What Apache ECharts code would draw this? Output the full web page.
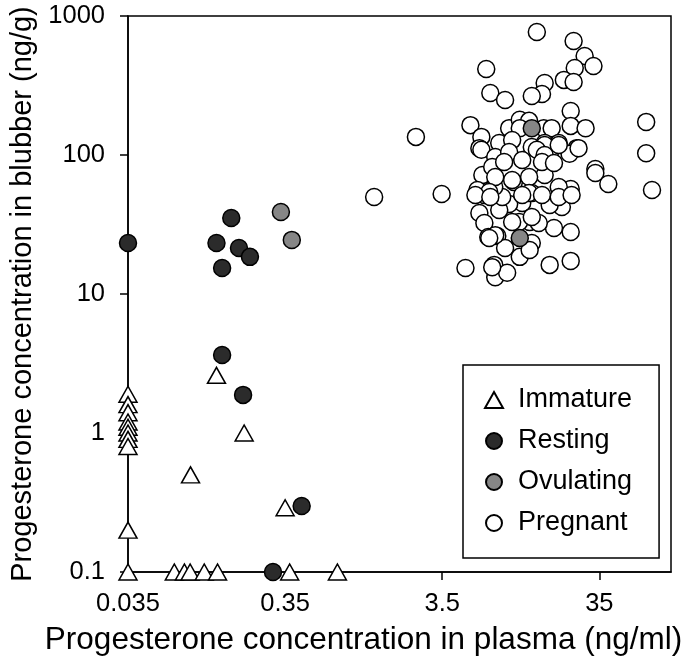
<!DOCTYPE html>
<html>
<head>
<meta charset="utf-8">
<script src="https://cdn.jsdelivr.net/npm/echarts@6/dist/echarts.min.js"></script>
<style>
html,body{margin:0;padding:0;background:#fff;}
#chart{width:685px;height:665px;}
</style>
</head>
<body>
<div id="chart"></div>
<script>
// Tick labels
var xTicks = [0.035, 0.35, 3.5, 35];
var yTicks = [0.1, 1, 10, 100, 1000];
var seriesNames = ['Immature', 'Resting', 'Ovulating', 'Pregnant'];

// [plasma ng/ml, blubber ng/g]
var immature = [
  [0.035,1.9],[0.035,1.6],[0.035,1.4],[0.035,1.2],[0.035,1.1],[0.035,1.0],[0.035,0.9],[0.035,0.8],
  [0.035,0.2],[0.035,0.1],
  [0.128,2.6],[0.192,1.0],[0.0875,0.5],[0.35,0.29],
  [0.069,0.1],[0.08,0.1],[0.087,0.1],[0.107,0.1],[0.13,0.1],[0.374,0.1],[0.753,0.1]
];
var resting = [
  [0.035,23.3],[0.159,35.2],[0.128,23.3],[0.178,21.4],[0.209,18.5],[0.139,15.4],
  [0.139,3.64],[0.189,1.88],[0.446,0.298],[0.293,0.1]
];
var ovulating = [
  [0.329,38.9],[0.386,24.5],[13.0,156],[10.9,25.3]
];
var pregnant = [
  [14.0,767],[24.0,661],[28.2,515],[32.1,437],[24.4,423],[20.8,347],[24.0,335],[6.67,416],[7.08,279],
  [8.79,249],[15.7,330],[15.1,275],[13.0,266],[23.0,207],[23.0,162],[28.6,156],[69.5,173],[69.5,103],
  [2.38,135],[5.29,164],[6.21,135],[6.03,112],[8.07,122],[9.33,156],[10.9,179],[12.5,176],[10.9,156],
  [15.5,156],[17.4,156],[15.7,122],[19.3,122],[25.1,112],[75.7,56.0],[33.0,79.3],[33.0,74.3],[39.9,61.8],
  [3.47,52.4],[1.29,49.9],[5.77,52.4],[6.03,38.3],[6.49,32.4],[6.87,25.7],[7.84,26.1],[8.79,21.4],
  [10.9,18.5],[13.0,23.3],[4.92,15.4],[7.50,16.2],[7.61,13.2],[9.06,14.2],[16.9,16.2],[23.0,17.3],
  [23.0,27.9],[18.0,29.8],[20.2,42.3],[16.9,43.7],[19.9,56.9],[23.0,56.9],[13.0,53.3],[11.3,45.2],
  [9.33,44.4],[8.07,40.2],[10.0,64.0],[7.84,87.5],[7.08,71.8],[15.7,71.8],[16.9,100],[22.6,102],
  [25.8,112],[6.21,109],[12.6,33.0],[10.8,33.0],[14.4,32.4],[9.75,33.0],[13.0,114],[15.7,118],
  [19.3,118],[8.43,49.9],[6.49,51.5],[7.50,58.9],[6.30,71.8],[9.75,128],[7.61,96.8],[9.33,105],
  [14.0,109],[15.7,100],[11.3,92.0],[15.1,89.1],[18.0,87.5],[7.28,82.0],[8.67,89.1],[7.61,69.5],
  [9.75,66.1],[12.5,69.5],[19.3,58.9],[5.86,56.0],[6.97,54.2],[12.5,53.3],[15.1,51.5],[13.0,35.8],
  [7.61,26.5],[6.97,25.3],[7.28,15.6],[5.69,51.5],[7.08,49.9],[11.3,51.5],[19.3,49.9],[23.3,51.5],
  [12.6,20.7]
];

var FONT = "'Liberation Sans', Arial, Helvetica, sans-serif";
var chart = echarts.init(document.getElementById('chart'), null, {renderer: 'canvas'});

function mk(name, data, symbol, size, fill, z) {
  return {
    name: name, type: 'scatter', data: data, symbol: symbol, symbolSize: size,
    clip: false, z: z,
    itemStyle: {color: fill, borderColor: '#000', borderWidth: 1.5, opacity: 1},
    emphasis: {disabled: true}
  };
}

chart.setOption({
  animation: false,
  backgroundColor: '#fff',
  textStyle: {fontFamily: FONT, color: '#000'},
  grid: {left: 123, right: 14, top: 16, bottom: 93, show: true, borderColor: '#000', borderWidth: 1.5, backgroundColor: 'transparent'},
  legend: {
    orient: 'vertical', left: 463, top: 365,
    data: [
      {name: 'Immature', icon: 'triangle'},
      {name: 'Resting', icon: 'circle'},
      {name: 'Ovulating', icon: 'circle'},
      {name: 'Pregnant', icon: 'circle'}
    ],
    itemWidth: 18, itemHeight: 16, itemGap: 11,
    padding: [20, 27, 20, 21],
    borderColor: '#000', borderWidth: 1.5, backgroundColor: '#fff',
    textStyle: {fontFamily: FONT, fontSize: 27, color: '#000', lineHeight: 30, padding: [0, 0, 0, 10]},
    selectedMode: false
  },
  xAxis: {
    type: 'log', logBase: 10, min: 0.035, max: 100,
    name: 'Progesterone concentration in plasma (ng/ml)',
    nameLocation: 'middle', nameGap: 52,
    nameTextStyle: {fontFamily: FONT, fontSize: 31.5, color: '#000', padding: [0, 72, 0, 0]},
    axisLine: {show: true, onZero: false, lineStyle: {color: '#000', width: 1.5}},
    axisTick: {show: true, inside: false, length: 8, lineStyle: {color: '#000', width: 1.5}, customValues: xTicks},
    axisLabel: {fontFamily: FONT, fontSize: 25.5, color: '#000', margin: 19, customValues: xTicks,
      formatter: function (v) { return String(+v.toPrecision(3)); }},
    minorTick: {show: false},
    splitLine: {show: false}
  },
  yAxis: {
    type: 'log', logBase: 10, min: 0.1, max: 1000,
    name: 'Progesterone concentration in blubber (ng/g)',
    nameLocation: 'middle', nameGap: 91,
    nameTextStyle: {fontFamily: FONT, fontSize: 29, color: '#000'},
    axisLine: {show: true, onZero: false, lineStyle: {color: '#000', width: 1.5}},
    axisTick: {show: true, inside: false, length: 8, lineStyle: {color: '#000', width: 1.5}, customValues: yTicks},
    axisLabel: {fontFamily: FONT, fontSize: 25.5, color: '#000', margin: 23, customValues: yTicks,
      formatter: function (v) { return String(+v.toPrecision(3)); }},
    splitLine: {show: false}
  },
  series: [
    mk('Pregnant', pregnant, 'circle', 17, '#ffffff', 2),
    mk('Immature', immature, 'triangle', [18, 16], '#ffffff', 3),
    mk('Resting', resting, 'circle', 17, '#2b2b2b', 4),
    mk('Ovulating', ovulating, 'circle', 17, '#868686', 5)
  ]
});
</script>
</body>
</html>
